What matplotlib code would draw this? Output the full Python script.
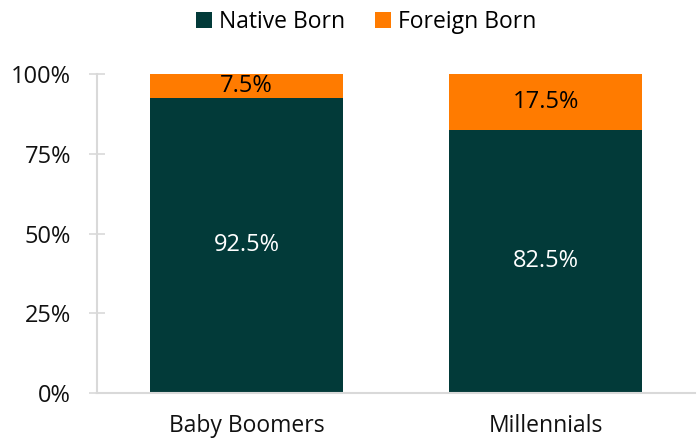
import matplotlib.pyplot as plt
import numpy as np
from matplotlib.ticker import PercentFormatter

plt.rcParams['font.family'] = ['Open Sans', 'DejaVu Sans']

# data
generations = ['Baby Boomers', 'Millennials']
native_born = [92.5, 82.5]
foreign_born = [7.5, 17.5]

native_color = '#023a39'
foreign_color = '#ff7b00'
grid_grey = '#d9d9d9'

fig = plt.figure(figsize=(7, 4.38), dpi=100)
ax = fig.add_axes([0.1386, 0.1027, 0.8543, 0.7283])

x = np.arange(len(generations))
width = 0.645
native = np.array(native_born) / 100
foreign = np.array(foreign_born) / 100

b1 = ax.bar(x, native, width, color=native_color, label='Native Born')
b2 = ax.bar(x, foreign, width, bottom=native, color=foreign_color, label='Foreign Born')

# segment labels
for rect, v in zip(b1, native_born):
    ax.text(rect.get_x() + rect.get_width() / 2, rect.get_y() + rect.get_height() / 2,
            f'{v}%', ha='center', va='center', color='white', fontsize=17)
for rect, v in zip(b2, foreign_born):
    ax.text(rect.get_x() + rect.get_width() / 2, rect.get_y() + rect.get_height() / 2,
            f'{v}%', ha='center', va='center', color='black', fontsize=17)

ax.set_xlim(-0.5, 1.5)
ax.set_ylim(0, 1)
ax.set_yticks([0, 0.25, 0.5, 0.75, 1.0])
ax.yaxis.set_major_formatter(PercentFormatter(1.0, decimals=0))
ax.set_xticks(x)
ax.set_xticklabels(generations)

for s in ['top', 'right']:
    ax.spines[s].set_visible(False)
for s in ['left', 'bottom']:
    ax.spines[s].set_color(grid_grey)
    ax.spines[s].set_linewidth(1.5)

ax.tick_params(axis='y', direction='inout', length=11.5, width=1.2, color=grid_grey,
               labelsize=17, pad=13, labelcolor='#111111')
ax.tick_params(axis='x', length=0, labelsize=16.5, pad=15, labelcolor='#111111')

fig.legend(handles=[b1, b2], loc='upper center', bbox_to_anchor=(0.523, 1.025), ncol=2,
           frameon=False, fontsize=16.5, handlelength=0.7, handleheight=0.7,
           handletextpad=0.3, columnspacing=1.3)

fig.savefig('out.png', dpi=100)
